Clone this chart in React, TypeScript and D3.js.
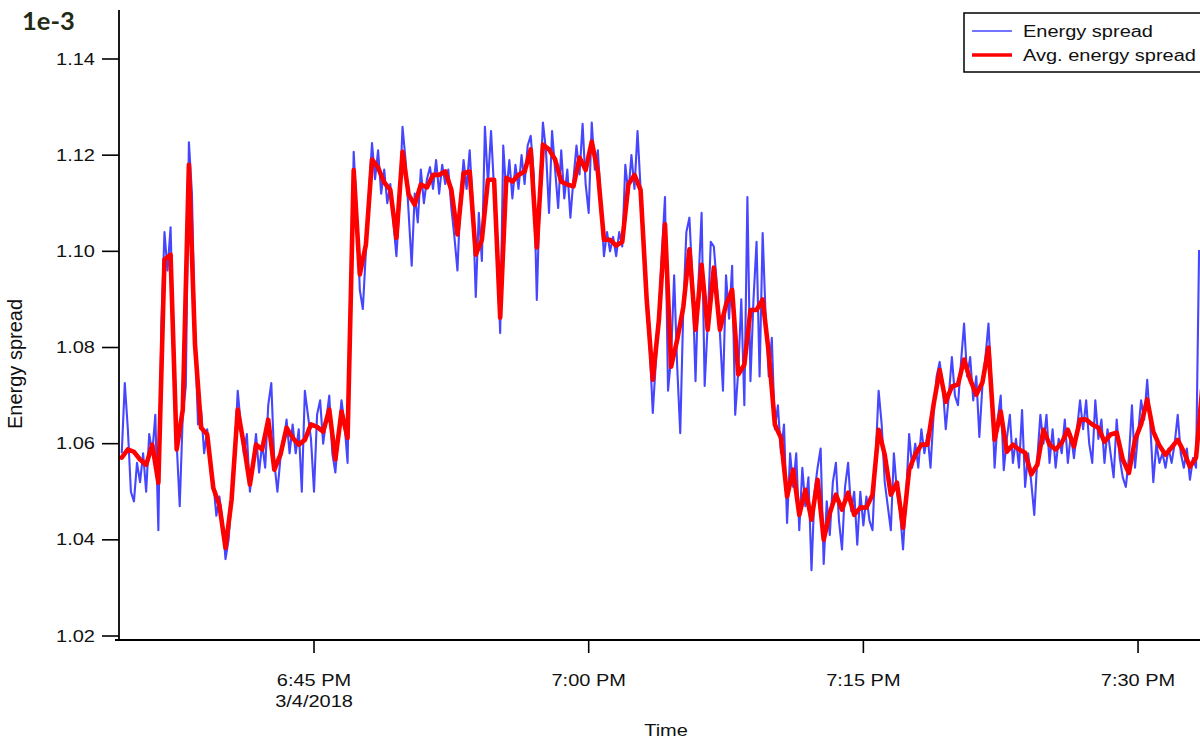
import React from "react";
import * as d3 from "d3";

// Raw energy spread, sampled every 10 s starting 6:34:30 PM (units of 1e-3)
const RAW_START = new Date(2018, 2, 4, 18, 34, 30);
const RAW_STEP_S = 10;
const energySpread: number[] = [
  1.058, 1.0726, 1.063, 1.050, 1.048, 1.056, 1.052, 1.058, 1.050, 1.062,
  1.058, 1.066, 1.042, 1.085, 1.104, 1.096, 1.105, 1.080, 1.060, 1.047,
  1.066, 1.072, 1.1227, 1.112, 1.082, 1.064, 1.067, 1.058, 1.063, 1.057,
  1.052, 1.045, 1.049, 1.044, 1.036, 1.040, 1.049, 1.058, 1.071, 1.064,
  1.058, 1.062, 1.050, 1.056, 1.062, 1.054, 1.060, 1.055, 1.068, 1.0726,
  1.056, 1.050, 1.057, 1.060, 1.065, 1.058, 1.064, 1.058, 1.063, 1.050,
  1.071, 1.066, 1.061, 1.050, 1.066, 1.069, 1.060, 1.065, 1.070, 1.058,
  1.054, 1.062, 1.069, 1.064, 1.056, 1.090, 1.1207, 1.108, 1.092, 1.088,
  1.100, 1.112, 1.1225, 1.115, 1.121, 1.112, 1.117, 1.110, 1.114, 1.106,
  1.099, 1.110, 1.1259, 1.119, 1.108, 1.097, 1.112, 1.106, 1.117, 1.110,
  1.115, 1.1175, 1.113, 1.119, 1.112, 1.118, 1.114, 1.117, 1.109, 1.103,
  1.096, 1.111, 1.119, 1.113, 1.121, 1.110, 1.0905, 1.108, 1.098, 1.1259,
  1.114, 1.125, 1.113, 1.100, 1.083, 1.122, 1.112, 1.119, 1.111, 1.118,
  1.113, 1.120, 1.114, 1.122, 1.124, 1.116, 1.0899, 1.112, 1.1268, 1.121,
  1.108, 1.125, 1.117, 1.109, 1.121, 1.111, 1.117, 1.107, 1.115, 1.122,
  1.116, 1.1265, 1.114, 1.108, 1.1268, 1.117, 1.121, 1.110, 1.099, 1.104,
  1.100, 1.103, 1.099, 1.104, 1.101, 1.118, 1.112, 1.120, 1.113, 1.125,
  1.113, 1.104, 1.090, 1.080, 1.0664, 1.077, 1.087, 1.100, 1.1113, 1.071,
  1.078, 1.095, 1.076, 1.0622, 1.088, 1.104, 1.107, 1.094, 1.073, 1.094,
  1.108, 1.072, 1.085, 1.102, 1.101, 1.093, 1.083, 1.071, 1.095, 1.086,
  1.097, 1.066, 1.075, 1.090, 1.068, 1.1113, 1.073, 1.090, 1.102, 1.074,
  1.1038, 1.086, 1.074, 1.082, 1.063, 1.068, 1.058, 1.064, 1.0435, 1.058,
  1.051, 1.058, 1.042, 1.055, 1.047, 1.053, 1.0337, 1.050, 1.055, 1.059,
  1.035, 1.048, 1.041, 1.052, 1.056, 1.044, 1.038, 1.051, 1.056, 1.046,
  1.050, 1.039, 1.050, 1.043, 1.049, 1.044, 1.042, 1.057, 1.071, 1.064,
  1.052, 1.047, 1.042, 1.058, 1.050, 1.046, 1.038, 1.049, 1.062, 1.055,
  1.060, 1.055, 1.063, 1.058, 1.062, 1.055, 1.066, 1.074, 1.077, 1.072,
  1.063, 1.070, 1.078, 1.070, 1.068, 1.077, 1.085, 1.074, 1.078, 1.069,
  1.074, 1.0614, 1.072, 1.078, 1.085, 1.072, 1.055, 1.065, 1.070, 1.0545,
  1.061, 1.066, 1.056, 1.061, 1.055, 1.067, 1.051, 1.058, 1.052, 1.0452,
  1.057, 1.066, 1.060, 1.066, 1.056, 1.063, 1.055, 1.061, 1.058, 1.065,
  1.056, 1.062, 1.057, 1.063, 1.069, 1.063, 1.069, 1.060, 1.056, 1.069,
  1.061, 1.065, 1.056, 1.063, 1.058, 1.053, 1.065, 1.057, 1.053, 1.051,
  1.057, 1.068, 1.055, 1.062, 1.069, 1.065, 1.0733, 1.064, 1.052, 1.060,
  1.056, 1.058, 1.055, 1.059, 1.056, 1.060, 1.066, 1.058, 1.055, 1.059,
  1.0525, 1.057, 1.055, 1.1003,
];

// Running average, sampled every 20 s from the same start
const AVG_STEP_S = 20;
const avgEnergySpread: number[] = [
  1.0571, 1.0588, 1.0583, 1.0567, 1.0556, 1.0598, 1.0519, 1.0983, 1.0993, 1.0588,
  1.0671, 1.118, 1.0806, 1.0633, 1.0619, 1.0508, 1.0472, 1.0383, 1.0484, 1.0671,
  1.0598, 1.0515, 1.0598, 1.0588, 1.065, 1.0546, 1.0577, 1.0633, 1.0612, 1.0598,
  1.0608, 1.064, 1.0635, 1.0625, 1.0671, 1.0567, 1.0667, 1.0612, 1.1169, 1.0952,
  1.1014, 1.1191, 1.1174, 1.1143, 1.1128, 1.1028, 1.1207, 1.1118, 1.1097, 1.1139,
  1.1133, 1.1159, 1.1159, 1.1166, 1.1128, 1.1035, 1.1163, 1.1166, 1.0993, 1.1024,
  1.1149, 1.1149, 1.0862, 1.1153, 1.1145, 1.1159, 1.1166, 1.1212, 1.1008, 1.1222,
  1.1212, 1.1191, 1.1145, 1.1139, 1.1135, 1.1195, 1.1169, 1.1228, 1.1166, 1.1024,
  1.1024, 1.1012, 1.102, 1.1139, 1.1159, 1.1128, 1.09, 1.0733, 1.0857, 1.1056,
  1.076, 1.0816, 1.0884, 1.1004, 1.0837, 1.0972, 1.0837, 1.0966, 1.0837, 1.0889,
  1.092, 1.0744, 1.0764, 1.0878, 1.0878, 1.09, 1.0789, 1.064, 1.0612, 1.049,
  1.0546, 1.0452, 1.0504, 1.0442, 1.0525, 1.04, 1.0456, 1.0494, 1.0463, 1.0498,
  1.0452, 1.0467, 1.0467, 1.0494, 1.0629, 1.0577, 1.0494, 1.0519, 1.0425, 1.0546,
  1.0577, 1.0598, 1.0598, 1.0681, 1.0753, 1.0687, 1.0719, 1.0723, 1.0775, 1.0733,
  1.0702, 1.0727, 1.08, 1.0608, 1.0667, 1.0583, 1.0598, 1.0588, 1.0581, 1.0536,
  1.0556, 1.0629, 1.0598, 1.0588, 1.0602, 1.0629, 1.0594, 1.065, 1.065, 1.064,
  1.0633, 1.0604, 1.0619, 1.0623, 1.0567, 1.0539, 1.0608, 1.064, 1.0692, 1.0625,
  1.0596, 1.0577, 1.0592, 1.0608, 1.0583, 1.0552, 1.0571, 1.0712,
];

const yTicks = [1.02, 1.04, 1.06, 1.08, 1.1, 1.12, 1.14];
const xTicks = [
  new Date(2018, 2, 4, 18, 45),
  new Date(2018, 2, 4, 19, 0),
  new Date(2018, 2, 4, 19, 15),
  new Date(2018, 2, 4, 19, 30),
];
const seriesNames = ["Energy spread", "Avg. energy spread"];
const seriesColors = ["#4646ff", "#ff0000"];

const FONT = "'Liberation Sans', Arial, sans-serif";

const x = d3
  .scaleTime()
  .domain([new Date(2018, 2, 4, 18, 34, 21), new Date(2018, 2, 4, 19, 33, 23)])
  .range([119, 1200]);
const y = d3.scaleLinear().domain([1.01917, 1.15019]).range([640, 10]);

const atStep = (stepS: number) => (i: number) =>
  new Date(RAW_START.getTime() + i * stepS * 1000);

const rawTime = atStep(RAW_STEP_S);
const avgTime = atStep(AVG_STEP_S);

const rawLine = d3
  .line<number>()
  .x((_, i) => x(rawTime(i)))
  .y((d) => y(d));
const avgLine = d3
  .line<number>()
  .x((_, i) => x(avgTime(i)))
  .y((d) => y(d));

const fmtTime = d3.timeFormat("%-I:%M %p");
const fmtDate = d3.timeFormat("%-m/%-d/%Y");

// Horizontal labels are drawn slightly flattened
const Label = ({
  tx,
  ty,
  anchor = "start",
  children,
}: {
  tx: number;
  ty: number;
  anchor?: string;
  children: React.ReactNode;
}) => (
  <text
    transform={`translate(${tx},${ty}) scale(1,0.78)`}
    textAnchor={anchor}
    fontFamily={FONT}
    fontSize={20}
    fill="#111"
  >
    {children}
  </text>
);

export default function App() {
  const [x0, x1] = x.range();
  const [yb, yt] = y.range();
  return (
    <div style={{ position: "absolute", left: 0, top: 0 }}>
      <svg width={1200} height={741} style={{ display: "block", background: "#fff" }}>
        <rect x={0} y={0} width={1200} height={741} fill="#fff" />

        {/* series */}
        <path
          d={rawLine(energySpread) ?? ""}
          fill="none"
          stroke={seriesColors[0]}
          strokeWidth={2.1}
          strokeLinejoin="round"
        />
        <path
          d={avgLine(avgEnergySpread) ?? ""}
          fill="none"
          stroke={seriesColors[1]}
          strokeWidth={4.6}
          strokeLinejoin="round"
          strokeLinecap="round"
        />

        {/* y axis */}
        <line x1={x0} x2={x0} y1={yt} y2={yb} stroke="#000" strokeWidth={1.8} />
        {yTicks.map((t) => (
          <g key={t}>
            <line x1={x0 - 17} x2={x0} y1={y(t)} y2={y(t)} stroke="#000" strokeWidth={1.6} />
            <Label tx={95} ty={y(t) + 5.6} anchor="end">
              {t.toFixed(2)}
            </Label>
          </g>
        ))}

        {/* x axis */}
        <line x1={x0 - 4} x2={x1} y1={yb} y2={yb} stroke="#000" strokeWidth={1.8} />
        {xTicks.map((t, i) => (
          <g key={i}>
            <line x1={x(t)} x2={x(t)} y1={yb} y2={yb + 13} stroke="#000" strokeWidth={1.6} />
            <Label tx={x(t)} ty={686} anchor="middle">
              {fmtTime(t)}
            </Label>
            {i === 0 && (
              <Label tx={x(t)} ty={707} anchor="middle">
                {fmtDate(t)}
              </Label>
            )}
          </g>
        ))}

        <Label tx={666} ty={736} anchor="middle">
          Time
        </Label>
        <text
          transform="translate(22,364) rotate(-90)"
          textAnchor="middle"
          fontFamily={FONT}
          fontSize={20}
          fill="#111"
        >
          Energy spread
        </text>

        <text x={22} y={30} fontFamily="Lato, 'Open Sans', sans-serif" fontWeight={700} fontSize={25.5} fill="#1f2b14">
          1e-3
        </text>

        {/* legend */}
        <rect x={964} y={13} width={260} height={59} fill="#fff" stroke="#000" strokeWidth={1.5} />
        {seriesNames.map((name, i) => (
          <g key={name}>
            <line
              x1={972}
              x2={1012}
              y1={31 + i * 24}
              y2={31 + i * 24}
              stroke={seriesColors[i]}
              strokeWidth={i === 0 ? 1.6 : 3.5}
            />
            <Label tx={1023} ty={36.5 + i * 24}>
              {name}
            </Label>
          </g>
        ))}
      </svg>
    </div>
  );
}
